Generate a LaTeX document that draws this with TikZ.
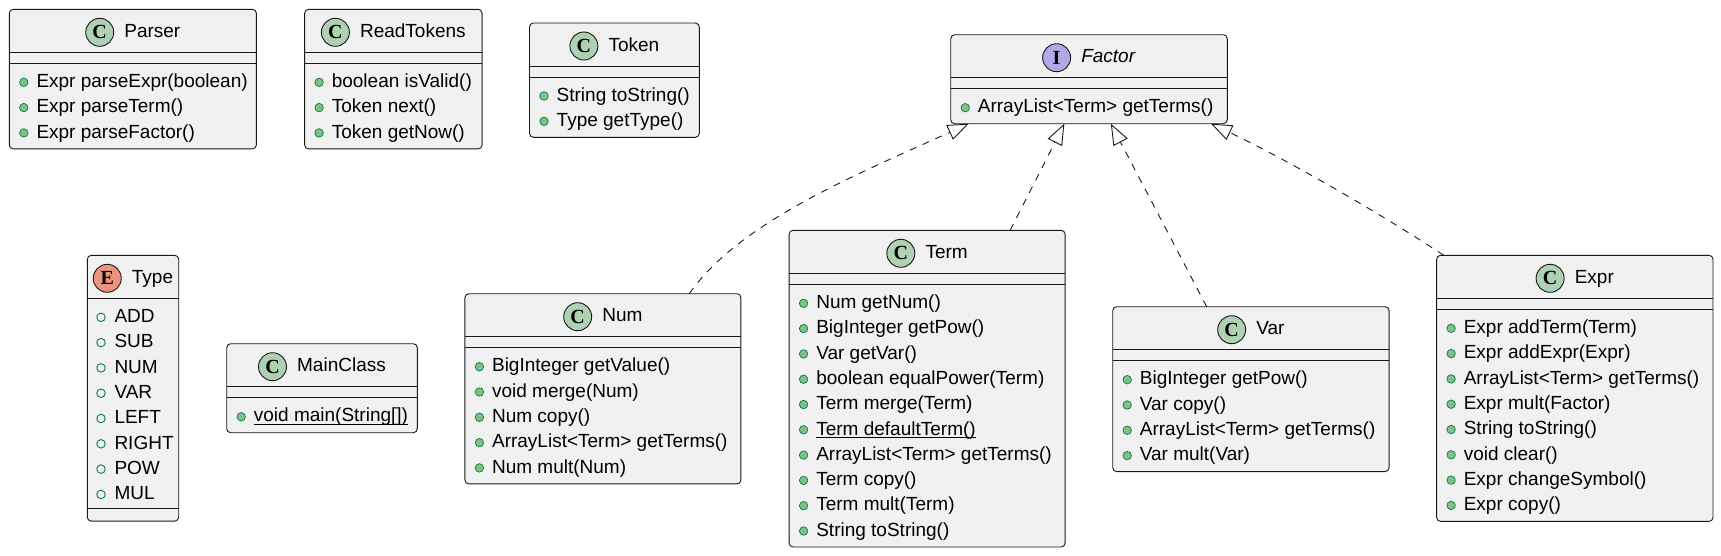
\documentclass[tikz,border=0pt]{standalone}
\usepackage{fontspec}
\setmainfont{Liberation Sans}
\newfontfamily\spotfont{Liberation Serif}
\usetikzlibrary{arrows.meta,positioning,calc}
\definecolor{boxfill}{HTML}{F1F1F1}
\definecolor{boxline}{HTML}{181818}
\definecolor{classspot}{HTML}{ADD1B2}
\definecolor{ifacespot}{HTML}{B4A7E5}
\definecolor{enumspot}{HTML}{EB937F}
\definecolor{pubfill}{HTML}{84BE84}
\definecolor{publine}{HTML}{038048}
% static members: underline just under the baseline
\newcommand\staticname[1]{\setbox0\hbox{#1}\rlap{\rule[-2.6pt]{\wd0}{0.9pt}}\box0}
\tikzset{
  >={Triangle[open,length=21pt,width=16pt]},
  classbox/.style={draw=boxline,fill=boxfill,line width=0.9pt,rounded corners=4pt,
    anchor=north west,inner sep=0pt,outer sep=0pt},
  headtext/.style={font=\fontsize{19}{23}\selectfont,inner sep=0pt,text height=14.5pt,text depth=4pt},
  member/.style={headtext,anchor=west},
  spot/.style={circle,draw=boxline,line width=0.9pt,fill=#1,minimum size=28pt,inner sep=0pt,
    font=\spotfont\bfseries\fontsize{20}{20}\selectfont},
  spot/.default=classspot,
  pubdot/.style={circle,draw=publine,fill=pubfill,line width=0.7pt,minimum size=8.5pt,inner sep=0pt},
  fielddot/.style={circle,draw=publine,line width=0.9pt,minimum size=8.5pt,inner sep=0pt},
  sepline/.style={draw=boxline,line width=0.9pt},
  realize/.style={draw=boxline,line width=0.9pt,dash pattern=on 7pt off 7pt,->},
}

\begin{document}
\begin{tikzpicture}[x=1pt,y=-1pt]
  \useasboundingbox (0,0) rectangle (1721,555);
  % class boxes
  \foreach \id/\x/\y/\w/\h in {parser/9.3/9.3/247.1/139.6,readtokens/304.6/9.3/177.5/139.6,
      token/529.5/23/169.8/114.3,factor/950.7/34.7/276.6/89,type/87.3/255.3/91.4/265.8,
      mainclass/226.7/343.7/190.6/89,num/464.9/293.7/276/190.2,term/789.1/230.3/276/316.7,
      var/1112.7/306.7/276.4/164.9,expr/1436.6/255.3/276.4/266.1}
    \node[classbox,minimum width=\w pt,minimum height=\h pt] (\id) at (\x,\y) {};
  \foreach \id/\a/\b in {parser/43/54,readtokens/43/54,token/43/54,factor/43/54,type/43/253.1,
      mainclass/43/54,num/43/54,term/43/54,var/43/54,expr/43/54}
    \draw[sepline] ($(\id.north west)+(0,\a)$) -- ($(\id.north east)+(0,\a)$)
      ($(\id.north west)+(0,\b)$) -- ($(\id.north east)+(0,\b)$);
  % headers
  \foreach \id/\letter/\tint/\cname in {parser/C/classspot/Parser,readtokens/C/classspot/ReadTokens,
      token/C/classspot/Token,factor/I/ifacespot/\textit{Factor},type/E/enumspot/Type,
      mainclass/C/classspot/MainClass,num/C/classspot/Num,term/C/classspot/Term,
      var/C/classspot/Var,expr/C/classspot/Expr}{
    \node[headtext] (\id-t) at ($(\id.north)+(19.5,23)$) {\cname};
    \node[spot=\tint,left=10pt of \id-t] (\id-s) {\letter};
  }
  % members
  \foreach \m [count=\i from 0] in {Expr parseExpr(boolean),Expr parseTerm(),Expr parseFactor()}{
    \node[pubdot] (parser-d\i) at ($(parser.north west)+(14.5,73+25.3*\i)$) {};
    \node[member] (parser-m\i) at ($(parser.north west)+(27,73+25.3*\i)$) {\m};
  }
  \foreach \m [count=\i from 0] in {boolean isValid(),Token next(),Token getNow()}{
    \node[pubdot] (readtokens-d\i) at ($(readtokens.north west)+(14.5,73+25.3*\i)$) {};
    \node[member] (readtokens-m\i) at ($(readtokens.north west)+(27,73+25.3*\i)$) {\m};
  }
  \foreach \m [count=\i from 0] in {String toString(),Type getType()}{
    \node[pubdot] (token-d\i) at ($(token.north west)+(14.5,73+25.3*\i)$) {};
    \node[member] (token-m\i) at ($(token.north west)+(27,73+25.3*\i)$) {\m};
  }
  \foreach \m [count=\i from 0] in {ArrayList<Term> getTerms()}{
    \node[pubdot] (factor-d\i) at ($(factor.north west)+(14.5,73+25.3*\i)$) {};
    \node[member] (factor-m\i) at ($(factor.north west)+(27,73+25.3*\i)$) {\m};
  }
  \foreach \m [count=\i from 0] in {ADD,SUB,NUM,VAR,LEFT,RIGHT,POW,MUL}{
    \node[fielddot] (type-d\i) at ($(type.north west)+(13.7,62+25.3*\i)$) {};
    \node[member] (type-m\i) at ($(type.north west)+(27,62+25.3*\i)$) {\m};
  }
  \foreach \m [count=\i from 0] in {\staticname{void main(String[])}}{
    \node[pubdot] (mainclass-d\i) at ($(mainclass.north west)+(14.5,73+25.3*\i)$) {};
    \node[member] (mainclass-m\i) at ($(mainclass.north west)+(27,73+25.3*\i)$) {\m};
  }
  \foreach \m [count=\i from 0] in {BigInteger getValue(),void merge(Num),Num copy(),
      ArrayList<Term> getTerms(),Num mult(Num)}{
    \node[pubdot] (num-d\i) at ($(num.north west)+(14.5,73+25.3*\i)$) {};
    \node[member] (num-m\i) at ($(num.north west)+(27,73+25.3*\i)$) {\m};
  }
  \foreach \m [count=\i from 0] in {Num getNum(),BigInteger getPow(),Var getVar(),
      boolean equalPower(Term),Term merge(Term),\staticname{Term defaultTerm()},
      ArrayList<Term> getTerms(),Term copy(),Term mult(Term),String toString()}{
    \node[pubdot] (term-d\i) at ($(term.north west)+(14.5,73+25.3*\i)$) {};
    \node[member] (term-m\i) at ($(term.north west)+(27,73+25.3*\i)$) {\m};
  }
  \foreach \m [count=\i from 0] in {BigInteger getPow(),Var copy(),ArrayList<Term> getTerms(),Var mult(Var)}{
    \node[pubdot] (var-d\i) at ($(var.north west)+(14.5,73+25.3*\i)$) {};
    \node[member] (var-m\i) at ($(var.north west)+(27,73+25.3*\i)$) {\m};
  }
  \foreach \m [count=\i from 0] in {Expr addTerm(Term),Expr addExpr(Expr),ArrayList<Term> getTerms(),
      Expr mult(Factor),String toString(),void clear(),Expr changeSymbol(),Expr copy()}{
    \node[pubdot] (expr-d\i) at ($(expr.north west)+(14.5,73+25.3*\i)$) {};
    \node[member] (expr-m\i) at ($(expr.north west)+(27,73+25.3*\i)$) {\m};
  }
  % realizations of Factor
  \draw[realize] ($(num.north west)!0.813!(num.north east)$) .. controls +(50,-72) and +(-110,50) ..
    ($(factor.south west)!0.065!(factor.south east)$);
  \draw[realize] ($(term.north west)!0.801!(term.north east)$) -- ($(factor.south west)!0.411!(factor.south east)$);
  \draw[realize] ($(var.north west)!0.340!(var.north east)$) -- ($(factor.south west)!0.579!(factor.south east)$);
  \draw[realize] ($(expr.north west)!0.026!(expr.north east)$) .. controls +(-70,-46) and +(70,33) ..
    ($(factor.south west)!0.941!(factor.south east)$);
\end{tikzpicture}
\end{document}
